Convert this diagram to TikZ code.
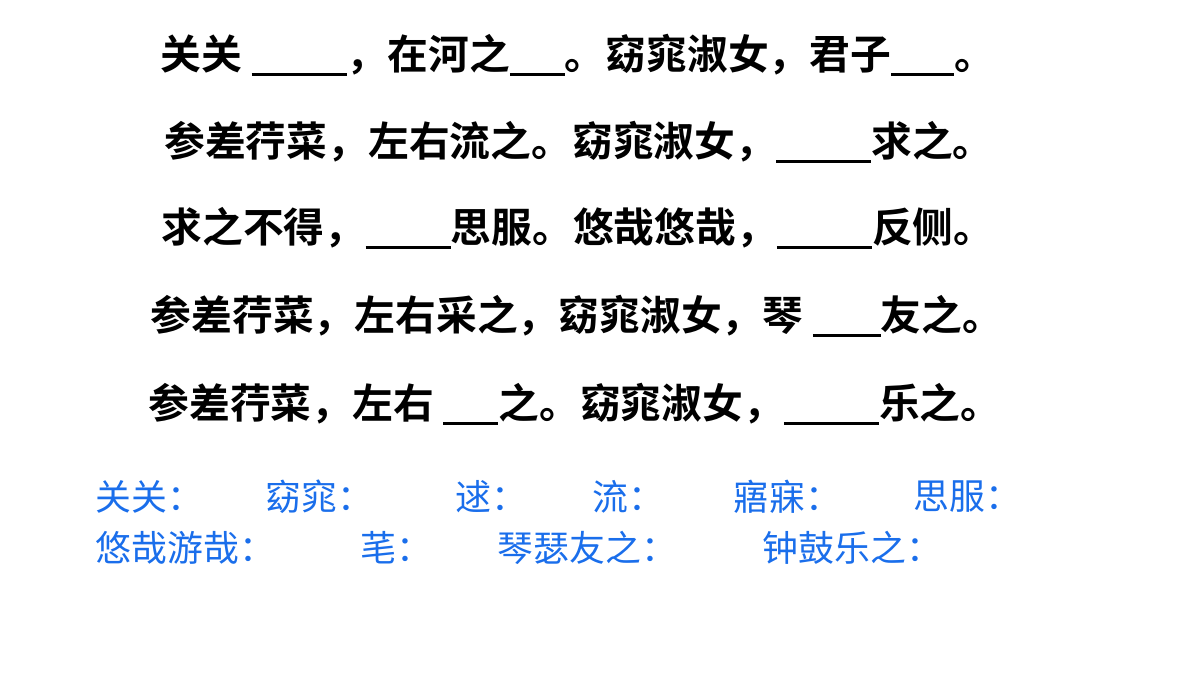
\documentclass[tikz,border=0pt]{standalone}
\usepackage{fontspec}
\newfontfamily\cjkbold{Noto Sans CJK SC Bold}
\newfontfamily\cjk{Noto Sans CJK SC}
\definecolor{noteblue}{RGB}{26,110,235}
\newcommand{\blank}[1]{\rule[-2pt]{#1}{0.8pt}}
\begin{document}
\begin{tikzpicture}[x=0.01cm,y=-0.01cm]

%
% Styles
%
\tikzstyle{verse} = [font=\cjkbold\fontsize{11.6pt}{13pt}\selectfont,inner sep=0pt]
\tikzstyle{note} = [font=\cjk\fontsize{10.2pt}{12pt}\selectfont,text=noteblue,anchor=west,inner sep=0pt]

\useasboundingbox (0,0) rectangle (1200,675);

\node[verse] (l1) at (578, 55) {关关 \blank{0.95cm}，在河之\blank{0.55cm}。窈窕淑女，君子\blank{0.63cm}。};
\node[verse] (l2) at (579,142) {参差荇菜，左右流之。窈窕淑女，\blank{0.95cm}求之。};
\node[verse] (l3) at (578,228) {求之不得，\blank{0.85cm}思服。悠哉悠哉，\blank{0.95cm}反侧。};
\node[verse] (l4) at (577,316) {参差荇菜，左右采之，窈窕淑女，琴 \blank{0.68cm}友之。};
\node[verse] (l5) at (575,404) {参差荇菜，左右 \blank{0.55cm}之。窈窕淑女，\blank{0.95cm}乐之。};

\node[note] (n1) at ( 95,497) {关关：};
\node[note] (n2) at (265,497) {窈窕：};
\node[note] (n3) at (455,497) {逑：};
\node[note] (n4) at (592,497) {流：};
\node[note] (n5) at (733,497) {寤寐：};
\node[note] (n6) at (913,497) {思服：};
\node[note] (m1) at ( 95,548) {悠哉游哉：};
\node[note] (m2) at (360,548) {芼：};
\node[note] (m3) at (497,548) {琴瑟友之：};
\node[note] (m4) at (762,548) {钟鼓乐之：};

\end{tikzpicture}
\end{document}
